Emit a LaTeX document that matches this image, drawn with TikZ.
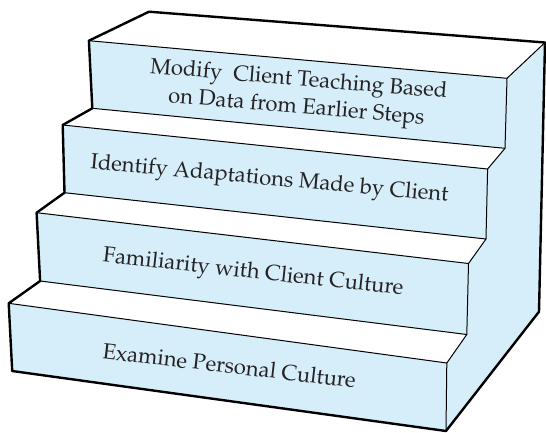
\documentclass[tikz,border=0pt]{standalone}
\usepackage[T1]{fontenc}
\usepackage{mathpazo}
\definecolor{stepblue}{RGB}{213,238,250}
\definecolor{txtgray}{RGB}{38,34,35}
\tikzset{
  outline/.style={line width=2.4pt, line join=round, line cap=round},
  thinedge/.style={line width=1pt, line join=round},
  face/.style={fill=stepblue},
  tread/.style={fill=white},
  steplabel/.style={text=txtgray, font=\fontsize{22}{27.7}\selectfont, align=center, inner sep=0pt}
}
\begin{document}
\begin{tikzpicture}[x=1pt,y=-1pt]
\useasboundingbox (0,0) rectangle (546,432);
% key points
\coordinate (A) at (149,11.7);
\coordinate (B) at (545,42.5);
\coordinate (C) at (88.9,40.7);
\coordinate (D) at (507,78.3);
\coordinate (E) at (92.3,108.3);
\coordinate (F) at (505,148.3);
\coordinate (G) at (62.7,125);
\coordinate (H) at (487.6,169);
\coordinate (I) at (64.5,192.7);
\coordinate (J) at (486,239);
\coordinate (K) at (36.6,212.7);
\coordinate (L) at (468.5,263.5);
\coordinate (M) at (40.1,281);
\coordinate (N) at (466.8,334.5);
\coordinate (O) at (8.7,303.3);
\coordinate (P) at (446.8,363);
\coordinate (Q) at (12.2,371);
\coordinate (R) at (446,431);
\coordinate (S) at (539,311.7);
% treads
\fill[tread] (A) -- (B) -- (D) -- (C) -- cycle;
\fill[tread] (E) -- (F) -- (H) -- (G) -- cycle;
\fill[tread] (I) -- (J) -- (L) -- (K) -- cycle;
\fill[tread] (M) -- (N) -- (P) -- (O) -- cycle;
% front faces
\fill[face] (C) -- (D) -- (F) -- (E) -- cycle;
\fill[face] (G) -- (H) -- (J) -- (I) -- cycle;
\fill[face] (K) -- (L) -- (N) -- (M) -- cycle;
\fill[face] (O) -- (P) -- (R) -- (Q) -- cycle;
% right side face
\fill[face] (B) -- (S) -- (R) -- (P) -- (N) -- (L) -- (J) -- (H) -- (F) -- (D) -- cycle;
% thin inner edges
\draw[thinedge] (C) -- (D) -- (B);
\draw[thinedge] (D) -- (F);
\draw[thinedge] (E) -- (F) -- (H);
\draw[thinedge] (G) -- (H) -- (J);
\draw[thinedge] (I) -- (J) -- (L);
\draw[thinedge] (K) -- (L) -- (N);
\draw[thinedge] (M) -- (N) -- (P);
\draw[thinedge] (O) -- (P) -- (R);
% outline
\draw[outline] (A) -- (B) -- (S) -- (R) -- (Q) -- (O) -- (M) -- (K) -- (I) -- (G) -- (E) -- (C) -- cycle;
% labels
\node[steplabel, rotate=-4.8] (t1) at (297.5,94.5) {Modify\ \ Client Teaching Based\\on Data from Earlier Steps};
\node[steplabel, rotate=-5.3, anchor=base] (t2) at (269,185) {Identify Adaptations Made by Client};
\node[steplabel, rotate=-6.3, anchor=base] (t3) at (252.5,278.3) {Familiarity with Client Culture};
\node[steplabel, rotate=-6.6, anchor=base] (t4) at (228.5,373.2) {Examine Personal Culture};
\end{tikzpicture}
\end{document}
